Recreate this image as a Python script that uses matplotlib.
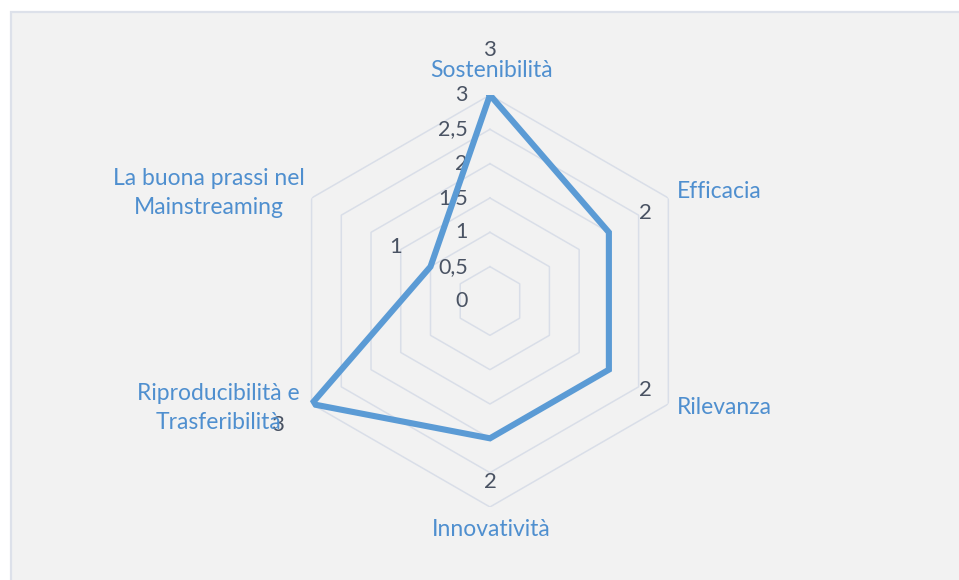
import numpy as np
import matplotlib
matplotlib.use("Agg")
import matplotlib.pyplot as plt
from matplotlib.patches import Rectangle

plt.rcParams['font.family'] = ['Lato', 'DejaVu Sans']

# dati del grafico radar
categorie = ['Sostenibilità', 'Efficacia', 'Rilevanza', 'Innovatività',
             'Riproducibilità e\nTrasferibilità', 'La buona prassi nel\nMainstreaming']
valori = [3, 2, 2, 2, 3, 1]
tick_valori = [0, 0.5, 1, 1.5, 2, 2.5, 3]
tick_etichette = ['0', '0,5', '1', '1,5', '2', '2,5', '3']

blu = '#5b9bd5'
blu_testo = '#4f8fcf'
grigio_testo = '#4a5363'
griglia = '#d9dee8'

fig = plt.figure(figsize=(9.59, 5.8), dpi=100)
fig.patch.set_facecolor('white')
# riquadro di sfondo come in Excel
fig.patches.append(Rectangle((10.5 / 959, -0.05), 1.0, 1.05 - 11.5 / 580,
                             transform=fig.transFigure, facecolor='#f2f2f2',
                             edgecolor='#dde1ea', linewidth=1.6, zorder=-10))

ax = fig.add_axes([0.2961, 0.1259, 0.4296, 0.7103], projection='polar')
ax.set_facecolor('none')
ax.set_theta_zero_location('N')
ax.set_theta_direction(-1)
ax.set_ylim(0, 3)
ax.grid(False)
ax.spines['polar'].set_visible(False)
ax.set_xticks([])
ax.set_yticks([])

n = len(categorie)
ang = np.arange(n) * 2 * np.pi / n
ang_chiuso = np.append(ang, ang[0])

# griglia esagonale
for v in tick_valori[1:]:
    ax.plot(ang_chiuso, [v] * (n + 1), color=griglia, lw=1.1, zorder=1)

# serie
val_chiuso = valori + valori[:1]
ax.plot(ang_chiuso, val_chiuso, color=blu, lw=4.4, solid_joinstyle='miter', zorder=3)

# etichette asse
for v, t in zip(tick_valori, tick_etichette):
    ax.annotate(t, (0, v), xytext=(-16, 0), textcoords='offset points',
                ha='right', va='center', fontsize=15.5, color=grigio_testo,
                annotation_clip=False, zorder=2)

# etichette dati (offset in pixel)
off_dati = [(0, 45), (37, 19), (37, -20), (0, -44), (-34, -21), (-35, 20)]
for a, v, (dx, dy) in zip(ang, valori, off_dati):
    ax.annotate(str(v), (a, v), xytext=(dx * 0.72, dy * 0.72), textcoords='offset points',
                ha='center', va='center', fontsize=16, color=grigio_testo,
                annotation_clip=False, zorder=4)

# etichette categorie
off_cat = [(2, 25, 'center'), (9, 6, 'left'), (9, -4, 'left'),
           (1, -23, 'center'), (-12, -4, 'right'), (-7, 5, 'right')]
for a, c, (dx, dy, ha) in zip(ang, categorie, off_cat):
    ax.annotate(c, (a, 3), xytext=(dx * 0.72, dy * 0.72), textcoords='offset points',
                ha=ha, va='center', multialignment='center', fontsize=16.5,
                color=blu_testo, linespacing=1.42, annotation_clip=False, zorder=4)

fig.savefig('out.png', dpi=100, facecolor=fig.get_facecolor())
